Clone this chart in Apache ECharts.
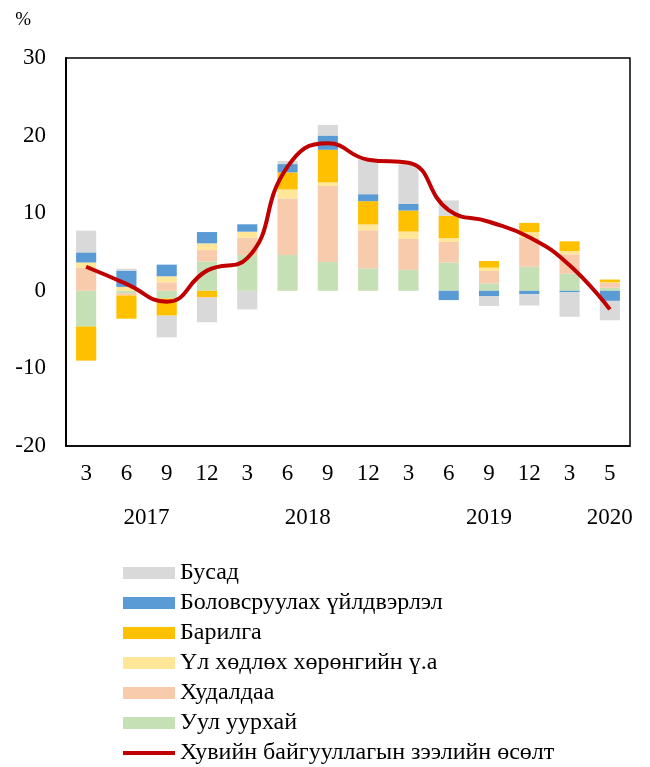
<!DOCTYPE html>
<html>
<head>
<meta charset="utf-8">
<script src="https://cdn.jsdelivr.net/npm/echarts@6/dist/echarts.min.js"></script>
<style>
  html, body { margin: 0; padding: 0; background: #fff; }
  #chart { width: 650px; height: 767px; }
</style>
</head>
<body>
<div id="chart"></div>
<script>
// сар (ангилал)
var months = ['3', '6', '9', '12', '3', '6', '9', '12', '3', '6', '9', '12', '3', '5'];
// жилийн шошго (хагас алхамтай тэнхлэг)
var yearTicks = ['', '', '', '', '2017', '', '', '', '', '', '', '', '2018', '', '',
                 '', '', '', '', '', '', '2019', '', '', '', '', '', '2020', ''];

var mining       = [-4.6, -0.3, -1.0, 3.8, 4.6, 4.6, 3.7, 2.9, 2.7, 3.65, 0.95, 3.1, 2.2, 0.4];
var trade        = [3.0, -0.3, 1.1, 1.45, 2.25, 7.3, 9.8, 4.9, 4.0, 2.65, 1.6, 3.75, 2.5, 0.6];
var realEstate   = [0.65, 0.5, 0.77, 0.86, 0.77, 1.16, 0.47, 0.75, 0.94, 0.5, 0.43, 0.7, 0.43, 0.1];
var construction = [-4.4, -3.0, -2.2, -0.86, 0, 2.2, 4.2, 3.0, 2.7, 2.85, 0.86, 1.2, 1.25, 0.35];
var manufacture  = [1.3, 2.1, 1.5, 1.46, 0.95, 1.07, 1.84, 0.9, 0.86, -1.2, -0.7, -0.45, -0.2, -1.3];
var other        = [2.8, 0.25, -2.8, -3.2, -2.4, 0.4, 1.37, 4.5, 5.1, 2.0, -1.25, -1.45, -3.15, -2.5];
var loanGrowth   = [3.1, 0.9, -1.4, 2.6, 4.2, 16.0, 19.0, 16.9, 16.5, 10.4, 8.9, 6.9, 3.3, -2.4];

var font = 'Liberation Serif';

var chart = echarts.init(document.getElementById('chart'));

function barSeries(name, data, color) {
    return {
        name: name,
        type: 'bar',
        stack: 'total',
        barWidth: '50%',
        itemStyle: { color: color },
        data: data
    };
}

// legend-д зориулсан нимгэн зураас (дээд, доод цэг нь хэмжээг тогтооно)
var lineIcon = 'path://M0,0 L0,0 M0,4 L52,4 L52,8 L0,8 Z M52,12 L52,12';

chart.setOption({
    animation: false,
    textStyle: { fontFamily: font, color: '#000' },
    grid: {
        left: 66, right: 20, top: 58, bottom: 321,
        show: true, borderColor: '#000', borderWidth: 1.5, backgroundColor: 'transparent'
    },
    legend: {
        orient: 'vertical',
        left: 118, top: 556,
        height: 230,
        itemWidth: 52, itemHeight: 12,
        itemGap: 6,
        textStyle: { fontFamily: font, fontSize: 24, color: '#000' },
        data: [
            { name: 'Бусад', icon: 'rect' },
            { name: 'Боловсруулах үйлдвэрлэл', icon: 'rect' },
            { name: 'Барилга', icon: 'rect' },
            { name: 'Үл хөдлөх хөрөнгийн ү.а', icon: 'rect' },
            { name: 'Худалдаа', icon: 'rect' },
            { name: 'Уул уурхай', icon: 'rect' },
            { name: 'Хувийн байгууллагын зээлийн өсөлт', icon: lineIcon }
        ]
    },
    xAxis: [{
        type: 'category',
        data: months,
        axisLine: { onZero: false, lineStyle: { color: '#000', width: 1.5 } },
        axisTick: { show: false },
        axisLabel: { fontFamily: font, fontSize: 23, color: '#000', margin: 16 }
    }, {
        type: 'category',
        position: 'bottom',
        offset: 44,
        boundaryGap: false,
        data: yearTicks,
        axisLine: { show: false },
        axisTick: { show: false },
        axisLabel: { fontFamily: font, fontSize: 23, color: '#000', interval: 0, margin: 16 }
    }],
    yAxis: {
        type: 'value',
        min: -20, max: 30, interval: 10,
        name: '%',
        nameGap: 28,
        nameTextStyle: { fontFamily: font, fontSize: 19, color: '#000', align: 'right', padding: [0, 35, 0, 0] },
        axisLine: { show: true, lineStyle: { color: '#000', width: 2 } },
        axisTick: { show: false },
        splitLine: { show: false },
        axisLabel: { fontFamily: font, fontSize: 23, color: '#000', margin: 20 }
    },
    series: [
        barSeries('Уул уурхай', mining, '#C5E0B4'),
        barSeries('Худалдаа', trade, '#F8CBAD'),
        barSeries('Үл хөдлөх хөрөнгийн ү.а', realEstate, '#FFE699'),
        barSeries('Барилга', construction, '#FFC000'),
        barSeries('Боловсруулах үйлдвэрлэл', manufacture, '#5B9BD5'),
        barSeries('Бусад', other, '#D9D9D9'),
        {
            name: 'Хувийн байгууллагын зээлийн өсөлт',
            type: 'line',
            smooth: 0.5,
            symbol: 'none',
            z: 5,
            itemStyle: { color: '#C00000' },
            lineStyle: { color: '#C00000', width: 4 },
            data: loanGrowth
        }
    ]
});
</script>
</body>
</html>
